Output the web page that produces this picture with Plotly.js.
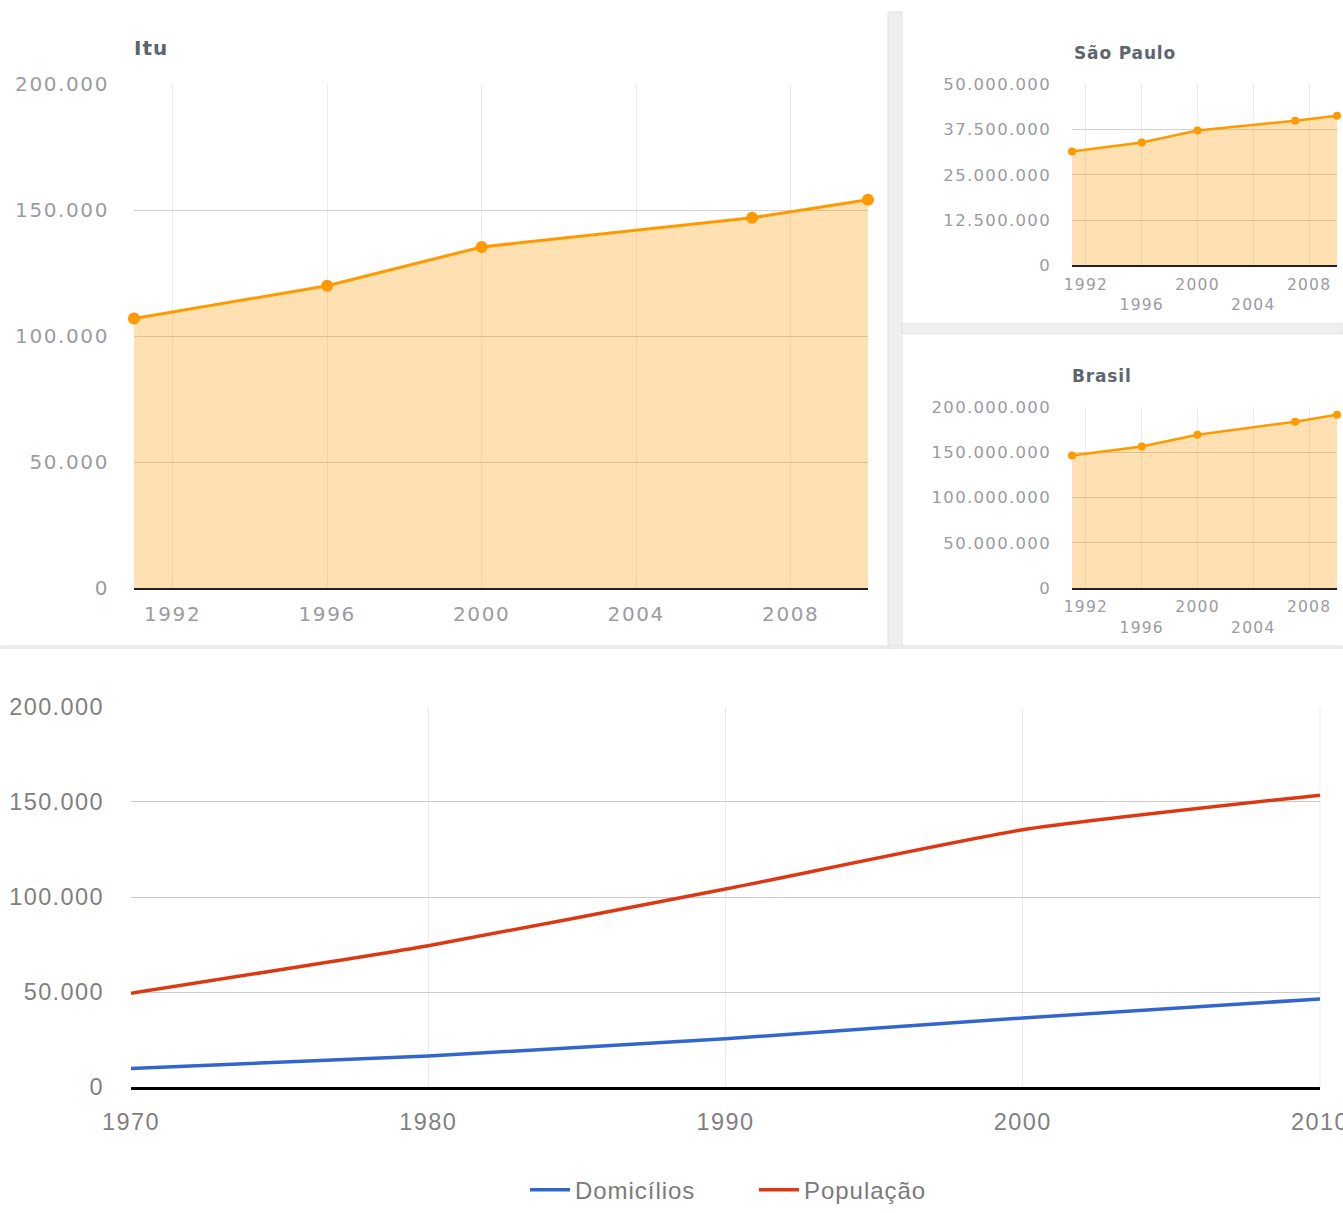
<!DOCTYPE html>
<html>
<head>
<meta charset="utf-8">
<script src="https://cdn.plot.ly/plotly-3.0.1.min.js"></script>
<style>
  html, body { margin: 0; padding: 0; background: #ffffff; overflow: hidden; }
  #chart { display: block; width: 1343px; overflow: hidden; }
  .xtick text, .ytick text, .x2tick text, .y2tick text, .x3tick text, .y3tick text { letter-spacing: 0.08em; }
  .x4tick text, .y4tick text { letter-spacing: 0.06em; }
  .legendtext { letter-spacing: 0.04em; }
  .annotation-text { letter-spacing: 0.05em; }
</style>
</head>
<body>
<div id="chart"></div>
<script>
// ---------- DATA ----------
const censusYears = [1991, 1996, 2000, 2007, 2010];
const ituPop = [107000, 120000, 135400, 147000, 154100];
const saoPauloPop = [31400000, 33900000, 37200000, 39900000, 41300000];
const brasilPop = [146400000, 156300000, 169400000, 183600000, 191300000];

const decades = [1970, 1980, 1990, 2000, 2010];
const domicilios = [9800, 16400, 25500, 36400, 46400];
const populacao = [49400, 74400, 104200, 135400, 153600];

const yearTicks = [1992, 1996, 2000, 2004, 2008];
const yearTickText = ['1992', '1996', '2000', '2004', '2008'];
const yearTickTextStaggered = ['1992', '<br>1996', '2000', '<br>2004', '2008'];
const decadeTicks = [1970, 1980, 1990, 2000, 2010];

const panelTitles = ['Itu', 'São Paulo', 'Brasil'];
const seriesNames = ['Domicílios', 'População'];

// ---------- LAYOUT HELPERS ----------
const W = 1343, H = 1213;
const dx = (a, b) => [a / W, b / W];
const dy = (top, bottom) => [1 - bottom / H, 1 - top / H];
const px = v => v / W;
const py = v => 1 - v / H;

const orange = '#ff9900';
const orangeFill = 'rgba(255,153,0,0.3)';
const tickGray = '#9b9ba1';
const wideFont = 'DejaVu Sans, Verdana, sans-serif';
const arialFont = 'Liberation Sans, Arial, sans-serif';

const traces = [
  {
    x: censusYears, y: ituPop, xaxis: 'x', yaxis: 'y', type: 'scatter', mode: 'lines+markers',
    fill: 'tozeroy', fillcolor: orangeFill, line: {color: orange, width: 3},
    marker: {color: orange, size: 12}, showlegend: false, hoverinfo: 'x+y', cliponaxis: false
  },
  {
    x: censusYears, y: saoPauloPop, xaxis: 'x2', yaxis: 'y2', type: 'scatter', mode: 'lines+markers',
    fill: 'tozeroy', fillcolor: orangeFill, line: {color: orange, width: 2.5},
    marker: {color: orange, size: 8}, showlegend: false, hoverinfo: 'x+y', cliponaxis: false
  },
  {
    x: censusYears, y: brasilPop, xaxis: 'x3', yaxis: 'y3', type: 'scatter', mode: 'lines+markers',
    fill: 'tozeroy', fillcolor: orangeFill, line: {color: orange, width: 2.5},
    marker: {color: orange, size: 8}, showlegend: false, hoverinfo: 'x+y', cliponaxis: false
  },
  {
    x: decades, y: domicilios, xaxis: 'x4', yaxis: 'y4', type: 'scatter', mode: 'lines',
    name: seriesNames[0], line: {color: '#3366cc', width: 3.5, shape: 'spline', smoothing: 0.5}
  },
  {
    x: decades, y: populacao, xaxis: 'x4', yaxis: 'y4', type: 'scatter', mode: 'lines',
    name: seriesNames[1], line: {color: '#dc3912', width: 3.5, shape: 'spline', smoothing: 0.5}
  }
];

const smallX = (domain, anchor) => ({
  domain: domain, anchor: anchor, range: [1991, 2010],
  tickmode: 'array', tickvals: yearTicks, ticktext: yearTickTextStaggered,
  showgrid: true, gridcolor: '#ececec', gridwidth: 1, zeroline: false,
  showline: true, linecolor: '#222', linewidth: 1.5, ticks: '',
  ticklabelstandoff: 4, ticklabeloverflow: 'allow',
  tickfont: {family: wideFont, size: 15.5, color: tickGray},
  fixedrange: true
});
const smallY = (domain, anchor, max, step) => ({
  domain: domain, anchor: anchor, range: [0, max], tickmode: 'linear', tick0: 0, dtick: step,
  tickformat: ',d', showgrid: true, gridcolor: '#d2d2d2', gridwidth: 1, zeroline: false,
  showline: false, ticks: '', ticklabelstandoff: 20, ticklabeloverflow: 'allow',
  tickfont: {family: wideFont, size: 16.5, color: tickGray}, fixedrange: true
});

const layout = {
  width: W, height: H,
  margin: {l: 0, r: 0, t: 0, b: 0},
  paper_bgcolor: '#ffffff', plot_bgcolor: 'rgba(0,0,0,0)',
  separators: ',.',
  showlegend: true,
  legend: {
    orientation: 'h', x: px(525), xanchor: 'left', y: py(1202), yanchor: 'middle',
    font: {family: arialFont, size: 24, color: '#7a7a7a'}, bgcolor: 'rgba(0,0,0,0)',
    entrywidth: 174, entrywidthmode: 'pixels', itemwidth: 40
  },
  xaxis: {
    domain: dx(134, 868), anchor: 'y', range: [1991, 2010],
    tickmode: 'array', tickvals: yearTicks, ticktext: yearTickText,
    showgrid: true, gridcolor: '#ececec', zeroline: false,
    showline: true, linecolor: '#222', linewidth: 1.5, ticks: '',
    ticklabelstandoff: 7, ticklabeloverflow: 'allow',
    tickfont: {family: wideFont, size: 20, color: tickGray}, fixedrange: true
  },
  yaxis: {
    domain: dy(85, 594), anchor: 'x', range: [0, 200000], tickmode: 'linear', tick0: 0, dtick: 50000,
    tickformat: ',d', showgrid: true, gridcolor: '#d2d2d2', zeroline: false, showline: false,
    ticks: '', ticklabelstandoff: 24, ticklabeloverflow: 'allow',
    tickfont: {family: wideFont, size: 20, color: tickGray},
    fixedrange: true
  },
  xaxis2: smallX(dx(1072, 1337), 'y2'),
  yaxis2: smallY(dy(85, 268), 'x2', 50000000, 12500000),
  xaxis3: smallX(dx(1072, 1337), 'y3'),
  yaxis3: smallY(dy(411, 594), 'x3', 200000000, 50000000),
  xaxis4: {
    domain: dx(131, 1320), anchor: 'y4', range: [1970, 2010],
    tickmode: 'array', tickvals: decadeTicks,
    showgrid: true, gridcolor: '#ebebeb', zeroline: false,
    showline: true, linecolor: '#000', linewidth: 2.5, ticks: '',
    ticklabelstandoff: 12, ticklabeloverflow: 'allow',
    tickfont: {family: arialFont, size: 23.5, color: '#808080'}, fixedrange: true
  },
  yaxis4: {
    domain: dy(714, 1098), anchor: 'x4', range: [0, 200000], tickmode: 'linear', tick0: 0, dtick: 50000,
    tickformat: ',d', showgrid: true, gridcolor: '#cccccc', zeroline: false, showline: false,
    ticks: '', ticklabelstandoff: 26, ticklabeloverflow: 'allow',
    tickfont: {family: arialFont, size: 23.5, color: '#808080'},
    fixedrange: true
  },
  annotations: [
    {text: '<b>' + panelTitles[0] + '</b>', xref: 'paper', yref: 'paper', x: px(132), y: py(48),
     xanchor: 'left', yanchor: 'middle', showarrow: false,
     font: {family: wideFont, size: 20, color: '#5d6570'}},
    {text: '<b>' + panelTitles[1] + '</b>', xref: 'paper', yref: 'paper', x: px(1072), y: py(54),
     xanchor: 'left', yanchor: 'middle', showarrow: false,
     font: {family: wideFont, size: 17, color: '#5d6570'}},
    {text: '<b>' + panelTitles[2] + '</b>', xref: 'paper', yref: 'paper', x: px(1070), y: py(380),
     xanchor: 'left', yanchor: 'middle', showarrow: false,
     font: {family: wideFont, size: 17, color: '#5d6570'}}
  ],
  shapes: [
    // vertical separator strip
    {type: 'rect', xref: 'paper', yref: 'paper', x0: px(888), x1: px(902), y0: py(655), y1: py(12),
     fillcolor: '#efefef', line: {color: '#e2e2e2', width: 1}, layer: 'below'},
    // horizontal separator between São Paulo and Brasil
    {type: 'rect', xref: 'paper', yref: 'paper', x0: px(902), x1: px(1343), y0: py(337), y1: py(327),
     fillcolor: '#efefef', line: {color: '#e2e2e2', width: 1}, layer: 'below'},
    // horizontal separator above the bottom chart
    {type: 'rect', xref: 'paper', yref: 'paper', x0: px(0), x1: px(1343), y0: py(655), y1: py(652),
     fillcolor: '#ececec', line: {color: '#e4e4e4', width: 0.5}, layer: 'below'},
    // right border gridline of bottom chart (light)
    {type: 'line', xref: 'paper', yref: 'paper', x0: px(1320), x1: px(1320), y0: py(1098), y1: py(714),
     line: {color: '#ebebeb', width: 1}, layer: 'below'}
  ]
};

Plotly.newPlot('chart', traces, layout, {displayModeBar: false});
</script>
</body>
</html>
